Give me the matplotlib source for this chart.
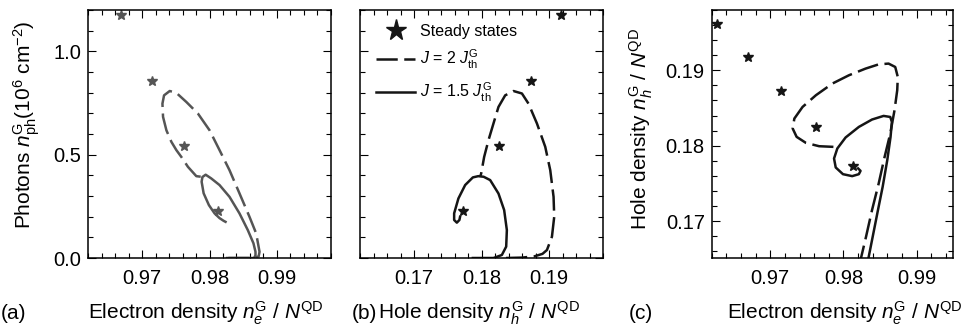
import matplotlib
matplotlib.use('Agg')
import matplotlib.pyplot as plt
from matplotlib.ticker import MultipleLocator, FormatStrFormatter

plt.rcParams['font.family'] = ['Liberation Sans', 'DejaVu Sans']
plt.rcParams['mathtext.fontset'] = 'custom'
plt.rcParams['mathtext.rm'] = 'Liberation Sans'
plt.rcParams['mathtext.it'] = 'Liberation Sans:italic'
plt.rcParams['mathtext.bf'] = 'Liberation Sans:bold'

# steady states (electron density, hole density, photons)
ne_ss = [0.9627, 0.9669, 0.9714, 0.9762, 0.9813]
nh_ss = [0.1961, 0.1918, 0.1873, 0.1825, 0.1773]
nph_ss = [1.49, 1.174, 0.856, 0.542, 0.227]

# (a) photons vs electron density
a_dash_ne = [0.9828, 0.9866, 0.9873, 0.98743, 0.98693, 0.98593, 0.98445, 0.98297, 0.98149,
             0.98001, 0.97828, 0.97656, 0.97508, 0.97409, 0.97325, 0.97301, 0.9731, 0.9736,
             0.97434, 0.97508, 0.97582, 0.9768, 0.97804, 0.97878]
a_dash_nph = [0.0, 0.0, 0.008, 0.03, 0.119, 0.2, 0.313, 0.425, 0.522,
              0.618, 0.699, 0.755, 0.799, 0.808, 0.787, 0.747, 0.683, 0.618,
              0.562, 0.522, 0.489, 0.441, 0.396, 0.393]
a_solid_ne = [0.9826, 0.9866, 0.98683, 0.98683, 0.98653, 0.98569, 0.98445, 0.98297, 0.98149,
              0.98026, 0.97943, 0.97895, 0.97883, 0.97913, 0.97991, 0.98075, 0.98149, 0.98209,
              0.98238]
a_solid_nph = [0.0, 0.0, 0.012, 0.03, 0.071, 0.135, 0.216, 0.296, 0.353,
               0.385, 0.403, 0.392, 0.369, 0.313, 0.256, 0.216, 0.193, 0.18,
               0.175]

# (b) photons vs hole density
b_dash_nh = [0.1836, 0.186, 0.1878, 0.189, 0.18966, 0.1904, 0.19074, 0.19064, 0.19015,
             0.18941, 0.18818, 0.18693, 0.18596, 0.18471, 0.18348, 0.18249, 0.18175, 0.18101,
             0.18037, 0.17993, 0.17978]
b_dash_nph = [0.0, 0.002, 0.008, 0.02, 0.0386, 0.103, 0.2, 0.296, 0.425,
              0.538, 0.651, 0.747, 0.796, 0.808, 0.787, 0.731, 0.651, 0.57,
              0.489, 0.409, 0.393]
b_solid_nh = [0.1787, 0.18175, 0.18299, 0.18363, 0.18373, 0.18333, 0.18249, 0.18126, 0.1803,
              0.1795, 0.1787, 0.17756, 0.17656, 0.17593, 0.17593, 0.17633, 0.17671, 0.17681]
b_solid_nph = [0.0, 0.0, 0.0145, 0.055, 0.135, 0.232, 0.312, 0.377, 0.393,
               0.396, 0.39, 0.353, 0.288, 0.216, 0.184, 0.171, 0.184, 0.2]

# (c) hole density vs electron density
c_dash_ne = [0.9821, 0.98233, 0.98308, 0.9839, 0.98481, 0.98562, 0.98639, 0.98697, 0.98734,
             0.98742, 0.98707, 0.98616, 0.98481, 0.983, 0.98074, 0.97848, 0.97623, 0.97441,
             0.97329, 0.97306, 0.9736, 0.97487, 0.97667, 0.97871]
c_dash_nh = [0.1640, 0.16484, 0.16792, 0.17146, 0.17499, 0.17852, 0.18161, 0.1847, 0.18735,
             0.18911, 0.19044, 0.19089, 0.19079, 0.19022, 0.18934, 0.18824, 0.18669, 0.18514,
             0.1836, 0.18228, 0.18117, 0.18037, 0.17993, 0.17984]
c_solid_ne = [0.9832, 0.98336, 0.98399, 0.98471, 0.98535, 0.98598, 0.98643, 0.98661, 0.98639,
              0.98548, 0.9839, 0.9821, 0.98029, 0.97916, 0.97871, 0.97894, 0.97993, 0.98119,
              0.9821, 0.98233, 0.982]
c_solid_nh = [0.1640, 0.16484, 0.16792, 0.17146, 0.17454, 0.17808, 0.18117, 0.18315, 0.18381,
              0.18395, 0.18347, 0.18249, 0.18109, 0.17963, 0.1783, 0.17711, 0.17622, 0.17596,
              0.17622, 0.17666, 0.17698]

W, H = 962, 326
fig = plt.figure(figsize=(W / 100, H / 100), dpi=100)


def rect(left, right, top=10, bottom=258):
    return [left / W, (H - bottom) / H, (right - left) / W, (bottom - top) / H]


def style(ax, xmaj, xmin, ymaj, ymin, yfmt):
    ax.xaxis.set_major_locator(MultipleLocator(xmaj))
    ax.xaxis.set_minor_locator(MultipleLocator(xmin))
    ax.yaxis.set_major_locator(MultipleLocator(ymaj))
    ax.yaxis.set_minor_locator(MultipleLocator(ymin))
    ax.xaxis.set_major_formatter(FormatStrFormatter('%.2f'))
    ax.yaxis.set_major_formatter(FormatStrFormatter(yfmt))
    ax.tick_params(which='both', direction='in', top=True, right=True,
                   width=0.8, labelsize=14.5)
    ax.tick_params(axis='x', pad=8)
    ax.tick_params(axis='y', pad=5)
    ax.tick_params(which='major', length=6)
    ax.tick_params(which='minor', length=3.5)
    for s in ax.spines.values():
        s.set_linewidth(1.1)


dash = (0, (8.5, 2.6))
lw = 1.8
gray = '#555555'
black = '#151515'

# panel (a)
ax1 = fig.add_axes(rect(88.3, 330.7))
ax1.plot(a_dash_ne, a_dash_nph, color=gray, lw=lw, ls=dash)
ax1.plot(a_solid_ne, a_solid_nph, color=gray, lw=lw)
ax1.plot(ne_ss, nph_ss, '*', color=gray, ms=7, clip_on=False)
ax1.set_xlim(0.962, 0.998)
ax1.set_ylim(0, 1.2)
style(ax1, 0.01, 0.002, 0.5, 0.1, '%.1f')

# panel (b)
ax2 = fig.add_axes(rect(360, 603.3))
ax2.plot(nh_ss, nph_ss, '*', color=black, ms=7, label='Steady states')
ax2.plot(b_dash_nh, b_dash_nph, color=black, lw=lw, ls=dash,
         label='$J$ = 2 $J_\\mathrm{th}^\\mathrm{G}$')
ax2.plot(b_solid_nh, b_solid_nph, color=black, lw=lw,
         label='$J$ = 1.5 $J_\\mathrm{th}^\\mathrm{G}$')
ax2.set_xlim(0.162, 0.198)
ax2.set_ylim(0, 1.2)
style(ax2, 0.01, 0.002, 0.5, 0.1, '%.1f')
ax2.tick_params(labelleft=False)
ax2.legend(loc='upper left', bbox_to_anchor=(0.066, 0.945), frameon=False,
           fontsize=11.5, markerscale=2.2, handlelength=2.45, handletextpad=0.3,
           borderpad=0, borderaxespad=0, labelspacing=0.6)

# panel (c)
ax3 = fig.add_axes(rect(711.7, 953.3))
ax3.plot(c_dash_ne, c_dash_nh, color=black, lw=lw, ls=dash)
ax3.plot(c_solid_ne, c_solid_nh, color=black, lw=lw)
ax3.plot(ne_ss, nh_ss, '*', color=black, ms=7)
ax3.set_xlim(0.962, 0.995)
ax3.set_ylim(0.1651, 0.198)
style(ax3, 0.01, 0.002, 0.01, 0.002, '%.2f')

# axis labels and panel tags
yb = (H - 319) / H
fs = 15
fig.text(88 / W, yb, 'Electron density $n_e^\\mathrm{G}$ / $N^\\mathrm{QD}$',
         fontsize=fs, va='baseline')
fig.text(378 / W, yb, 'Hole density $n_h^\\mathrm{G}$ / $N^\\mathrm{QD}$',
         fontsize=fs, va='baseline')
fig.text(727 / W, yb, 'Electron density $n_e^\\mathrm{G}$ / $N^\\mathrm{QD}$',
         fontsize=fs, va='baseline')
fig.text(1 / W, yb, '(a)', fontsize=fs, va='baseline')
fig.text(352 / W, yb, '(b)', fontsize=fs, va='baseline')
fig.text(629 / W, yb, '(c)', fontsize=fs, va='baseline')
fig.text(11 / W, (H - 125) / H,
         'Photons $n_\\mathrm{ph}^\\mathrm{G}$(10$^6$ cm$^{-2}$)',
         fontsize=fs, rotation=90, ha='left', va='center')
fig.text(628 / W, (H - 129) / H, 'Hole density $n_h^\\mathrm{G}$ / $N^\\mathrm{QD}$',
         fontsize=fs, rotation=90, ha='left', va='center')

fig.savefig('out.png', dpi=100)
